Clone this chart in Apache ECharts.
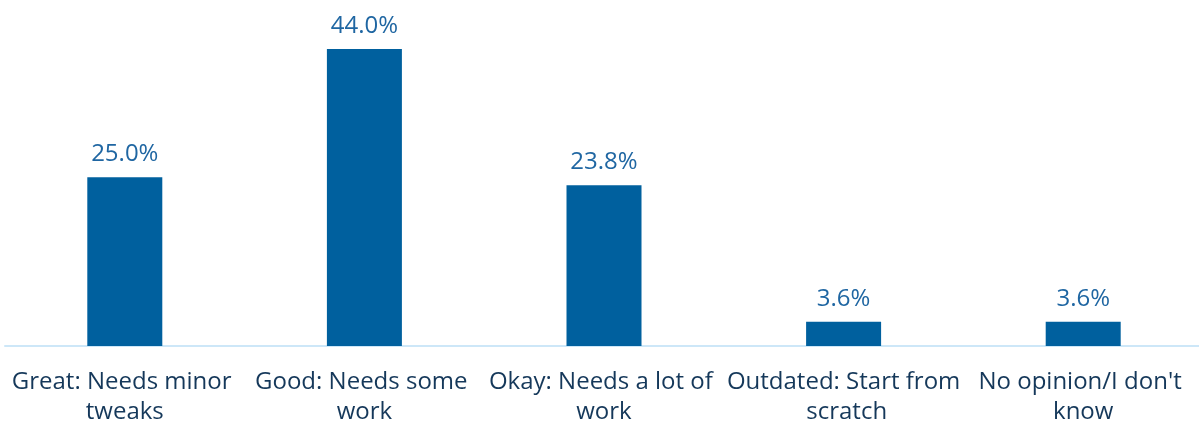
<!DOCTYPE html>
<html><head><meta charset="utf-8">
<script src="https://cdn.jsdelivr.net/npm/echarts@6/dist/echarts.min.js"></script>
<style>html,body{margin:0;padding:0;background:#fff;overflow:hidden}#c{width:1205px;height:428px}</style>
</head><body><div id="c"></div>
<script>
const categories = ["Great: Needs minor tweaks", "Good: Needs some work", "Okay: Needs a lot of work", "Outdated: Start from scratch", "No opinion/I don't know"];
const values = [25.0, 44.0, 23.8, 3.6, 3.6];

const chart = echarts.init(document.getElementById('c'), null, {renderer: 'canvas'});
chart.setOption({
  animation: false,
  grid: {left: 5, right: 0, top: 49, bottom: 82, containLabel: false},
  xAxis: {
    type: 'category', data: categories,
    axisLine: {lineStyle: {color: '#cde7f8', width: 2}},
    axisTick: {show: false},
    axisLabel: {interval: 0, color: '#15385a', fontFamily: 'Open Sans', fontSize: 24, lineHeight: 30, margin: 21, width: 238, overflow: 'break'}
  },
  yAxis: {type: 'value', min: 0, max: 44, show: false, splitLine: {show: false}},
  series: [{
    type: 'bar', data: values, barWidth: 75,
    itemStyle: {color: '#00609e'},
    label: {show: true, position: 'top', distance: 11, color: '#1f66a2', fontFamily: 'Open Sans', fontSize: 24,
      formatter: p => p.value.toFixed(1) + '%'}
  }]
});
</script></body></html>
